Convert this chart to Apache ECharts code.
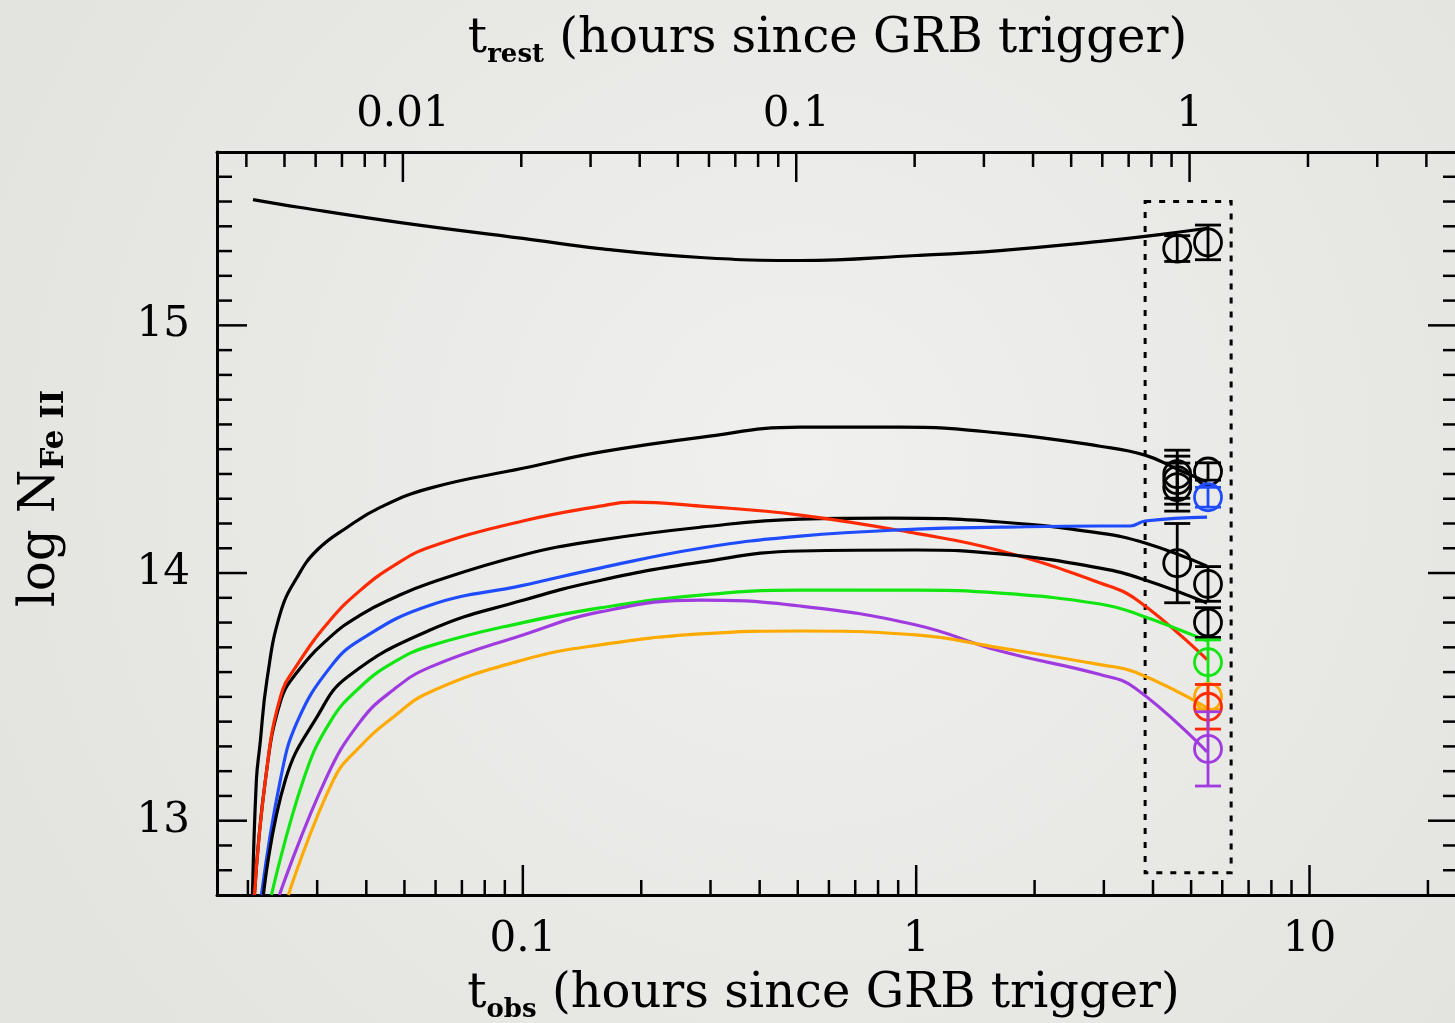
<!DOCTYPE html>
<html><head><meta charset="utf-8">
<script src="https://cdn.jsdelivr.net/npm/echarts@6/dist/echarts.min.js"></script>
<style>html,body{margin:0;padding:0;background:#e9e9e6}#c{width:1455px;height:1023px}</style>
</head><body><div id="c"></div>
<script>
// ---------- axis ranges ----------
const T_OBS_MIN = 0.01669, T_OBS_MAX = 23.85;
const REST_FACTOR = 4.955;             // t_obs / t_rest
const LOGN_MIN = 12.7, LOGN_MAX = 15.7;

// ---------- tick values ----------
const bottomMajorTicks = [0.1, 1, 10];
const bottomMinorTicks = [0.02,0.03,0.04,0.05,0.06,0.07,0.08,0.09,0.2,0.3,0.4,0.5,0.6,0.7,0.8,0.9,2,3,4,5,6,7,8,9,20];
const topMajorTicks = [0.01, 0.1, 1];
const topMinorTicks = [0.004,0.005,0.006,0.007,0.008,0.009,0.02,0.03,0.04,0.05,0.06,0.07,0.08,0.09,0.2,0.3,0.4,0.5,0.6,0.7,0.8,0.9,2,3,4];
const yMajorTicks = [13, 14, 15];
const yMinorTicks = [12.8,12.9,13.1,13.2,13.3,13.4,13.5,13.6,13.7,13.8,13.9,14.1,14.2,14.3,14.4,14.5,14.6,14.7,14.8,14.9,15.1,15.2,15.3,15.4,15.5,15.6];

// ---------- model curves: [t_obs (h), log N(FeII)] ----------
const curveBlack1 = [[0.0206,15.508],[0.0272,15.476],[0.0489,15.415],[0.1,15.351],[0.157,15.31],[0.283,15.274],[0.507,15.262],[1,15.282],[1.635,15.302],[2.935,15.339],[3.82,15.359],[5.5,15.392]];
const curveBlack2 = [[0.02054,12.70],[0.02102,13.165],[0.02144,13.30],[0.02236,13.569],[0.02419,13.839],[0.0267,13.984],[0.0300,14.093],[0.0358,14.185],[0.0435,14.266],[0.0581,14.343],[0.1,14.423],[0.157,14.488],[0.283,14.548],[0.507,14.589],[0.91,14.589],[1.635,14.565],[2.935,14.512],[3.82,14.476],[4.68,14.415],[5.49,14.367]];
const curveRed    = [[0.02078,12.70],[0.02216,13.165],[0.02419,13.50],[0.0267,13.63],[0.0324,13.81],[0.0386,13.93],[0.0470,14.03],[0.0581,14.105],[0.1,14.21],[0.157,14.27],[0.19,14.286],[0.283,14.27],[0.507,14.234],[1,14.16],[1.635,14.09],[2.935,13.96],[3.65,13.89],[5.49,13.65]];
const curveBlack3 = [[0.02078,12.70],[0.02216,13.165],[0.02419,13.48],[0.0267,13.60],[0.0324,13.742],[0.0386,13.83],[0.0470,13.90],[0.0581,13.96],[0.1,14.073],[0.157,14.133],[0.283,14.185],[0.507,14.218],[0.86,14.222],[1.635,14.206],[2.935,14.161],[3.82,14.121],[5.49,14.028]];
const curveBlue   = [[0.02165,12.70],[0.02419,13.165],[0.0267,13.40],[0.0324,13.62],[0.0386,13.73],[0.0581,13.87],[0.1,13.95],[0.157,14.02],[0.283,14.10],[0.507,14.149],[1,14.177],[1.635,14.185],[2.935,14.19],[3.5,14.19],[3.82,14.21],[5.49,14.226]];
const curveBlack4 = [[0.0219,12.70],[0.02491,13.165],[0.0300,13.42],[0.0358,13.58],[0.0581,13.77],[0.1,13.89],[0.157,13.97],[0.283,14.044],[0.507,14.089],[1,14.093],[1.635,14.077],[2.935,14.02],[3.82,13.972],[5.49,13.879]];
const curveGreen  = [[0.02296,12.70],[0.02768,13.165],[0.0324,13.40],[0.0386,13.54],[0.0470,13.64],[0.0581,13.706],[0.1,13.80],[0.157,13.859],[0.283,13.911],[0.507,13.931],[1,13.931],[1.635,13.919],[2.935,13.875],[3.7,13.831],[5.49,13.726]];
const curvePurple = [[0.02405,12.70],[0.03148,13.165],[0.0386,13.40],[0.0470,13.53],[0.0581,13.62],[0.1,13.75],[0.157,13.843],[0.283,13.891],[0.507,13.867],[1,13.79],[1.635,13.685],[2.935,13.59],[3.6,13.536],[5.49,13.278]];
const curveOrange = [[0.02535,12.70],[0.0330,13.165],[0.0386,13.30],[0.0470,13.42],[0.0581,13.52],[0.1,13.649],[0.157,13.71],[0.283,13.754],[0.507,13.766],[1,13.75],[1.635,13.698],[2.935,13.63],[3.6,13.6],[5.49,13.456]];

// ---------- measurements: [t_obs, log N, error] ----------
const obsBlack  = [[4.61,15.31,0.052],[4.61,14.399,0.097],[4.61,14.375,0.097],[4.61,14.347,0.097],[4.61,14.04,0.16],
                   [5.52,15.335,0.07],[5.52,14.41,0.035],[5.52,13.956,0.07],[5.52,13.80,0.06]];
const obsBlue   = [[5.52,14.306,0.04]];
const obsGreen  = [[5.52,13.64,0.09]];
const obsOrange = [[5.52,13.50,0.05]];
const obsRed    = [[5.52,13.46,0.09]];
const obsPurple = [[5.52,13.29,0.15]];

// ---------- dotted selection box ----------
const boxTimes = [3.82, 6.32];
const boxLogN  = [12.79, 15.50];

const FONT = 'DejaVu Serif';
const MAJOR_LEN = 30, MINOR_LEN = 15, TICK_W = 2.5;

const chart = echarts.init(document.getElementById('c'), null, {renderer: 'canvas'});

function tickSeries(xAxisIndex, side, majors, minors) {
  const data = [];
  const isX = side === 'bottom' || side === 'top';
  majors.forEach(v => data.push(isX ? [v, 14, 1] : [1, v, 1]));
  minors.forEach(v => data.push(isX ? [v, 14, 0] : [1, v, 0]));
  return {
    type: 'custom', xAxisIndex, yAxisIndex: 0, silent: true, z: 6, clip: false,
    data, encode: {x: 0, y: 1},
    renderItem(params, api) {
      const cs = params.coordSys;
      const len = api.value(2) ? MAJOR_LEN : MINOR_LEN;
      const p = api.coord([api.value(0), api.value(1)]);
      let shape;
      if (side === 'bottom') shape = {x1: p[0], y1: cs.y + cs.height, x2: p[0], y2: cs.y + cs.height - len};
      else if (side === 'top') shape = {x1: p[0], y1: cs.y, x2: p[0], y2: cs.y + len};
      else if (side === 'left') shape = {x1: cs.x, y1: p[1], x2: cs.x + len, y2: p[1]};
      else shape = {x1: cs.x + cs.width, y1: p[1], x2: cs.x + cs.width - len, y2: p[1]};
      return {type: 'line', shape, style: {stroke: '#000', lineWidth: TICK_W}};
    }
  };
}

function curve(name, data, color) {
  return {
    type: 'line', name, data, xAxisIndex: 0, yAxisIndex: 0,
    showSymbol: false, symbol: 'none', smooth: 0.45,
    lineStyle: {color, width: 3.2}, itemStyle: {color}, z: 3, silent: true, clip: true
  };
}

function obsSeries(name, data, color) {
  return {
    type: 'custom', name, data, xAxisIndex: 0, yAxisIndex: 0, z: 4, silent: true,
    encode: {x: 0, y: 1},
    renderItem(params, api) {
      const t = api.value(0), v = api.value(1), e = api.value(2);
      const c = api.coord([t, v]);
      const lo = api.coord([t, v - e]);
      const hi = api.coord([t, v + e]);
      const CAP = 13, R = 13.5;
      const st = {stroke: color, lineWidth: 2.8, fill: null};
      return {type: 'group', children: [
        {type: 'line', shape: {x1: c[0], y1: lo[1], x2: c[0], y2: hi[1]}, style: st},
        {type: 'line', shape: {x1: c[0] - CAP, y1: lo[1], x2: c[0] + CAP, y2: lo[1]}, style: st},
        {type: 'line', shape: {x1: c[0] - CAP, y1: hi[1], x2: c[0] + CAP, y2: hi[1]}, style: st},
        {type: 'circle', shape: {cx: c[0], cy: c[1], r: R}, style: {stroke: color, lineWidth: 2.8, fill: 'none'}}
      ]};
    }
  };
}

function isPow10(v) { const l = Math.log10(v); return Math.abs(l - Math.round(l)) < 1e-6; }
function fmtLog(v) { return isPow10(v) ? String(+v.toPrecision(6)) : ''; }

const titleRich = {
  t:   {fontFamily: FONT, fontSize: 48, color: '#000', lineHeight: 52, verticalAlign: 'top'},
  sub: {fontFamily: FONT, fontSize: 26, fontWeight: 'bold', color: '#000', lineHeight: 28, verticalAlign: 'bottom', padding: [38, 0, 0, 0]}
};
const yTitleRich = {
  t:   {fontFamily: FONT, fontSize: 50, color: '#000', lineHeight: 54, verticalAlign: 'top'},
  sub: {fontFamily: FONT, fontSize: 31, fontWeight: 'bold', color: '#000', lineHeight: 32, verticalAlign: 'bottom', padding: [36, 0, 0, 0]}
};

const option = {
  backgroundColor: {
    type: 'radial', x: 0.55, y: 0.45, r: 0.85,
    colorStops: [{offset: 0, color: '#f0f0ee'}, {offset: 1, color: '#e3e4e0'}]
  },
  animation: false,
  grid: {left: 217, top: 152, width: 1241, height: 743, containLabel: false, outerBoundsMode: 'none'},
  xAxis: [
    {
      type: 'log', position: 'bottom', min: T_OBS_MIN, max: T_OBS_MAX,
      axisLine: {show: true, onZero: false, lineStyle: {color: '#000', width: 3}},
      axisTick: {show: false}, splitLine: {show: false}, minorTick: {show: false},
      axisLabel: {fontFamily: FONT, fontSize: 42, color: '#000', margin: 24, formatter: fmtLog, showMinLabel: false, showMaxLabel: false},
      name: '{t|t}{sub|obs}{t| (hours since GRB trigger)}', nameLocation: 'middle', nameGap: 76,
      nameMoveOverlap: false,
      nameTextStyle: {rich: titleRich, padding: [0, 28, 0, 0]}
    },
    {
      type: 'log', position: 'top', min: T_OBS_MIN / REST_FACTOR, max: T_OBS_MAX / REST_FACTOR,
      axisLine: {show: true, onZero: false, lineStyle: {color: '#000', width: 3}},
      axisTick: {show: false}, splitLine: {show: false}, minorTick: {show: false},
      axisLabel: {fontFamily: FONT, fontSize: 42, color: '#000', margin: 16, formatter: fmtLog, showMinLabel: false, showMaxLabel: false},
      name: '{t|t}{sub|rest}{t| (hours since GRB trigger)}', nameLocation: 'middle', nameGap: 84,
      nameTextStyle: {rich: titleRich, padding: [0, 20, 0, 0]}
    }
  ],
  yAxis: [
    {
      type: 'value', position: 'left', min: LOGN_MIN, max: LOGN_MAX, interval: 0.1,
      axisLine: {show: true, onZero: false, lineStyle: {color: '#000', width: 3}},
      axisTick: {show: false}, splitLine: {show: false},
      axisLabel: {fontFamily: FONT, fontSize: 42, color: '#000', margin: 27,
        formatter: v => (Math.abs(v - Math.round(v)) < 1e-6 ? String(Math.round(v)) : '')},
      name: '{t|log N}{sub|Fe II}', nameLocation: 'middle', nameGap: 147, nameRotate: 90,
      nameTextStyle: {rich: yTitleRich, padding: [0, 0, 0, 50]}
    },
    {
      type: 'value', position: 'right', min: LOGN_MIN, max: LOGN_MAX, interval: 0.1,
      axisLine: {show: true, onZero: false, lineStyle: {color: '#000', width: 3}},
      axisTick: {show: false}, splitLine: {show: false}, axisLabel: {show: false}
    }
  ],
  series: [
    tickSeries(0, 'bottom', bottomMajorTicks, bottomMinorTicks),
    tickSeries(1, 'top', topMajorTicks, topMinorTicks),
    tickSeries(0, 'left', yMajorTicks, yMinorTicks),
    tickSeries(0, 'right', yMajorTicks, yMinorTicks),
    {
      type: 'line', name: 'box', data: [], xAxisIndex: 0, yAxisIndex: 0, silent: true,
      markArea: {
        silent: true,
        itemStyle: {color: 'rgba(0,0,0,0)', borderColor: '#000', borderWidth: 3, borderType: [6, 8]},
        data: [[{coord: [boxTimes[0], boxLogN[1]]}, {coord: [boxTimes[1], boxLogN[0]]}]]
      }
    },
    curve('model 1', curveBlack1, '#000'),
    curve('model 2', curveBlack2, '#000'),
    curve('model 4', curveBlack3, '#000'),
    curve('model 3', curveRed, '#ff2a00'),
    curve('model 5', curveBlue, '#1f4cff'),
    curve('model 6', curveBlack4, '#000'),
    curve('model 7', curveGreen, '#11e611'),
    curve('model 8', curvePurple, '#a03be0'),
    curve('model 9', curveOrange, '#ffaa00'),
    obsSeries('obs black', obsBlack, '#000'),
    obsSeries('obs blue', obsBlue, '#1f4cff'),
    obsSeries('obs green', obsGreen, '#11e611'),
    obsSeries('obs orange', obsOrange, '#ffaa00'),
    obsSeries('obs red', obsRed, '#ff2a00'),
    obsSeries('obs purple', obsPurple, '#a03be0')
  ]
};
chart.setOption(option);
</script></body></html>
